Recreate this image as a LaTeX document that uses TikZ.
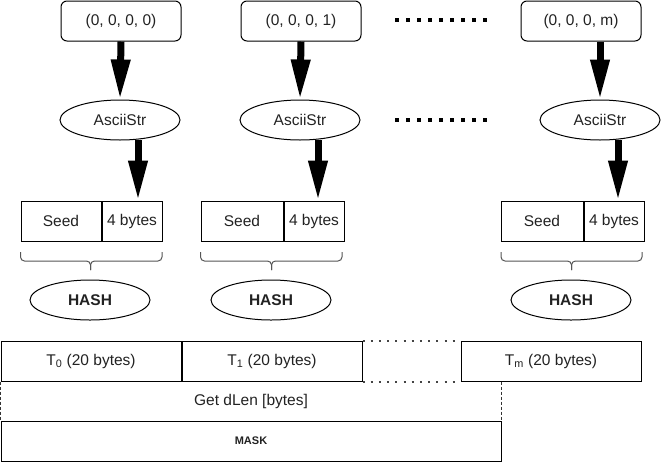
\documentclass[tikz,border=0pt]{standalone}
\usepackage{fontspec}
\setmainfont{Liberation Sans}
\usetikzlibrary{arrows.meta,shapes.geometric,calc}
\definecolor{txt}{HTML}{222222}
\definecolor{braceg}{HTML}{555555}
\definecolor{dotg}{HTML}{444444}
\begin{document}
\begin{tikzpicture}[x=1pt,y=-1pt,line width=1pt,
  font=\fontsize{15.5}{18}\selectfont, text=txt,
  inbox/.style={draw,rounded corners=6pt,minimum width=120pt,minimum height=40pt,inner sep=0pt,anchor=north west},
  oval/.style={draw,ellipse,minimum width=120pt,minimum height=40pt,inner sep=0pt},
  cell/.style={draw,minimum height=40pt,inner sep=0pt,anchor=north west},
  bigarrow/.style={line width=7pt,-{Triangle[length=40pt,width=18pt]}},
  bigdots/.style={line width=4pt,dash pattern=on 4pt off 7pt},
  smalldots/.style={draw=dotg,line width=2pt,dash pattern=on 2pt off 6.2pt},
  dashside/.style={draw=black!80,line width=1pt,dash pattern=on 3pt off 2pt},
  bracepath/.style={draw=braceg,line width=1pt,rounded corners=4pt},
  hashfont/.style={font=\fontsize{15.5}{18}\selectfont\bfseries},
]
\useasboundingbox (0,0) rectangle (661,461);

% input tuples
\node[inbox] (b1) at (60.5,0.5) {(0, 0, 0, 0)};
\node[inbox] (b2) at (240.5,0.5) {(0, 0, 0, 1)};
\node[inbox] (b3) at (520.5,0.5) {(0, 0, 0, m)};

% AsciiStr ellipses
\node[oval] (e1) at (120,120) {AsciiStr};
\node[oval] (e2) at (300,120) {AsciiStr};
\node[oval] (e3) at (600,120) {AsciiStr};

% seed / 4 bytes cells
\node[cell,minimum width=80pt] (s1) at (20.5,200.5) {Seed};
\node[cell,minimum width=60pt] (f1) at (s1.north east) {4 bytes};
\node[cell,minimum width=82pt] (s2) at (200.5,200.5) {Seed};
\node[cell,minimum width=60pt] (f2) at (s2.north east) {4 bytes};
\node[cell,minimum width=82pt] (s3) at (500.5,200.5) {Seed};
\node[cell,minimum width=60pt] (f3) at (s3.north east) {4 bytes};

% HASH ellipses
\node[oval,hashfont] (h1) at (90,300) {HASH};
\node[oval,hashfont] (h2) at (271,300) {HASH};
\node[oval,hashfont] (h3) at (571,300) {HASH};

% arrows tuple -> AsciiStr
\draw[bigarrow] (b1.south) -- (e1.north);
\draw[bigarrow] (b2.south) -- (e2.north);
\draw[bigarrow] (e3.north |- b3.south) -- (e3.north);

% arrows AsciiStr -> 4 bytes
\coordinate (a1) at ($(e1.south)+(18,-1)$);
\coordinate (a2) at ($(e2.south)+(18,-1)$);
\coordinate (a3) at ($(e3.south)+(18,-1)$);
\draw[bigarrow] (a1) -- (a1 |- f1.north);
\draw[bigarrow] (a2) -- (a2 |- f2.north);
\draw[bigarrow] (a3) -- (a3 |- f3.north);

% ellipsis dots
\draw[bigdots] (395,20) -- (487,20);
\draw[bigdots] (395,120) -- (487,120);

% braces
\draw[bracepath] (20.5,252) |- (90.5,261) -- (90.5,270);
\draw[bracepath] (162,252) |- (90.5,261) -- (90.5,270);
\draw[bracepath] (200.5,252) |- (271.5,261) -- (271.5,270);
\draw[bracepath] (342,252) |- (271.5,261) -- (271.5,270);
\draw[bracepath] (501,252) |- (571.5,261) -- (571.5,270);
\draw[bracepath] (642,252) |- (571.5,261) -- (571.5,270);

% T row
\node[cell,minimum width=180pt] (T0) at (0.5,340.5) {T\textsubscript{0} (20 bytes)};
\node[cell,minimum width=180pt] (T1) at (T0.north east) {T\textsubscript{1} (20 bytes)};
\node[cell,minimum width=180pt] (Tm) at (460.5,340.5) {T\textsubscript{m} (20 bytes)};
\draw[smalldots] (T1.north east) -- (Tm.north west);
\draw[smalldots] (T1.south east) -- (Tm.south west);

% MASK and Get dLen
\node[cell,minimum width=500pt,font=\fontsize{11}{13}\selectfont\bfseries] (mask) at (0.5,420.5) {MASK};
\node (gd) at ($(T0.south west)!0.5!(mask.north east)$) {Get dLen [bytes]};
\draw[dashside] (T0.south west) -- (mask.north west);
\draw[dashside] (mask.north east |- T0.south) -- (mask.north east);
\end{tikzpicture}
\end{document}
